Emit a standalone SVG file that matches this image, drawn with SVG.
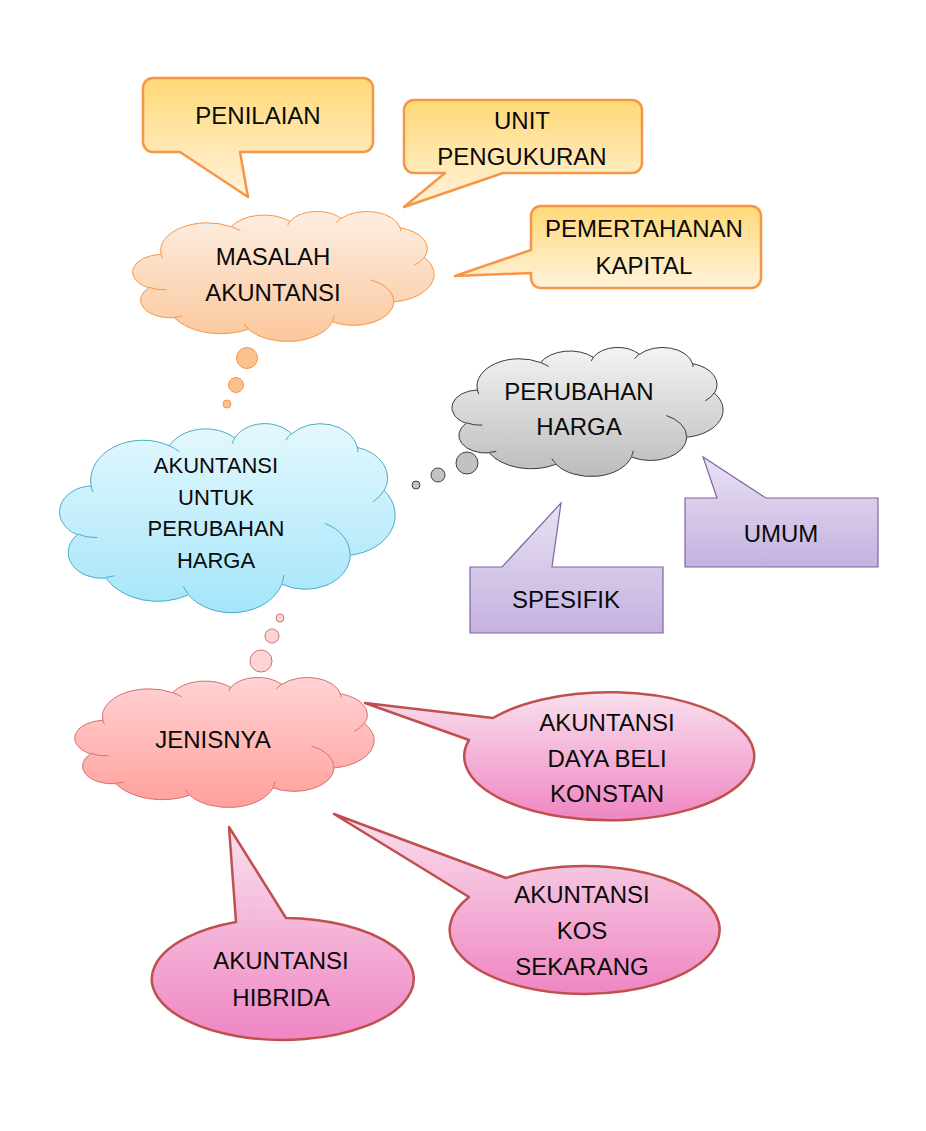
<svg xmlns="http://www.w3.org/2000/svg" xmlns:xlink="http://www.w3.org/1999/xlink" width="926" height="1131" viewBox="0 0 926 1131">
<style>
text{font-family:"Liberation Sans",Arial,sans-serif;font-size:24px;fill:#0a0a0a;text-anchor:middle}
.sm{font-size:22px}
.cl{vector-effect:non-scaling-stroke}
.inner{fill:none}
</style>
<defs>
<linearGradient id="gOr" x1="0" y1="0" x2="0" y2="1"><stop offset="0" stop-color="#FFD978"/><stop offset="1" stop-color="#FFF3DC"/></linearGradient>
<linearGradient id="gOrCloud" x1="0" y1="0" x2="0" y2="1"><stop offset="0" stop-color="#FDEEE2"/><stop offset="1" stop-color="#FBC79C"/></linearGradient>
<linearGradient id="gBlue" x1="0" y1="0" x2="0" y2="1"><stop offset="0" stop-color="#E4F8FD"/><stop offset="1" stop-color="#A4E5FA"/></linearGradient>
<linearGradient id="gGray" x1="0" y1="0" x2="0" y2="1"><stop offset="0" stop-color="#F3F3F3"/><stop offset="1" stop-color="#BCBCBC"/></linearGradient>
<linearGradient id="gPur" x1="0" y1="0" x2="0" y2="1"><stop offset="0" stop-color="#E8E1F3"/><stop offset="1" stop-color="#C5B1E0"/></linearGradient>
<linearGradient id="gRed" x1="0" y1="0" x2="0" y2="1"><stop offset="0" stop-color="#FFD3D3"/><stop offset="1" stop-color="#FFA09C"/></linearGradient>
<linearGradient id="gPink" x1="0" y1="0" x2="0" y2="1"><stop offset="0" stop-color="#F9E0EE"/><stop offset="1" stop-color="#EF86C2"/></linearGradient>
<path id="cloudShape" class="cl" d="M3900 14370 A6753 9190 0 0 1 14005 5202 A5333 7267 0 0 1 22457 3435 A4365 5945 0 0 1 29834 2482 A4857 6595 0 0 1 38317 5581 A5333 7273 0 0 1 41818 15465 A6775 9220 0 0 1 37404 30209 A5785 7867 0 0 1 28555 36818 A6752 9215 0 0 1 16479 39269 A7720 10543 0 0 1 5803 35473 A4360 5918 0 0 1 2113 25550 A4345 5945 0 0 1 3900 14370 Z"/>
<path id="cloudInner" class="cl inner" d="M4693 26177 A4345 5945 0 0 1 2160 25380 M6928 34899 A4360 5918 0 0 1 5820 35280 M16478 39090 A6752 9215 0 0 1 15810 37349 M28827 34751 A6752 9215 0 0 1 28560 36660 M34129 22954 A5785 7867 0 0 1 37380 30090 M41798 15354 A5333 7273 0 0 1 40349 18031 M38324 5426 A4857 6595 0 0 1 38400 6690 M29078 3952 A4857 6595 0 0 1 29822 2337 M22141 4720 A4365 5945 0 0 1 22500 3330 M14000 5192 A6753 9190 0 0 1 15302 6543 M4127 15789 A6753 9190 0 0 1 3900 14370"/>
</defs>

<g id="connectors">
<g fill="#FBC290" stroke="#F79646" stroke-width="1">
<circle cx="247" cy="358" r="10.5"/><circle cx="236" cy="385" r="7.5"/><circle cx="227" cy="404" r="4"/>
</g>
<g fill="#C2C2C2" stroke="#404040" stroke-width="1">
<circle cx="467" cy="463" r="11"/><circle cx="438" cy="475" r="7"/><circle cx="416" cy="485" r="4"/>
</g>
<g fill="#FFD4D4" stroke="#D07272" stroke-width="1">
<circle cx="280" cy="618" r="4"/><circle cx="272" cy="636" r="7"/><circle cx="261" cy="661" r="11"/>
</g>
</g>

<g id="penilaian">
<path d="M153 78 H363 A10 10 0 0 1 373 88 V142 A10 10 0 0 1 363 152 H240 L248 197 L180 152 H153 A10 10 0 0 1 143 142 V88 A10 10 0 0 1 153 78 Z" fill="url(#gOr)" stroke="#F79646" stroke-width="2.5" stroke-linejoin="round"/>
<text x="258" y="124">PENILAIAN</text>
</g>

<g id="unit-pengukuran">
<path d="M414 100 H632 A10 10 0 0 1 642 110 V163 A10 10 0 0 1 632 173 H503 L404 207 L445 173 H414 A10 10 0 0 1 404 163 V110 A10 10 0 0 1 414 100 Z" fill="url(#gOr)" stroke="#F79646" stroke-width="2.5" stroke-linejoin="round"/>
<text x="522" y="129">UNIT</text>
<text x="522" y="165">PENGUKURAN</text>
</g>

<g id="pemertahanan-kapital">
<path d="M541 206 H751 A10 10 0 0 1 761 216 V278 A10 10 0 0 1 751 288 H541 A10 10 0 0 1 531 278 V273 L455 276 L531 250 V216 A10 10 0 0 1 541 206 Z" fill="url(#gOr)" stroke="#F79646" stroke-width="2.5" stroke-linejoin="round"/>
<text x="644" y="237">PEMERTAHANAN</text>
<text x="644" y="274">KAPITAL</text>
</g>

<g id="masalah-akuntansi">
<g transform="translate(134,211) scale(0.0069444,0.0030093)" stroke="#F79646" stroke-width="1">
<use href="#cloudShape" fill="url(#gOrCloud)"/>
<use href="#cloudInner"/>
</g>
<text x="273" y="265">MASALAH</text>
<text x="273" y="301">AKUNTANSI</text>
</g>

<g id="perubahan-harga">
<g transform="translate(453,347) scale(0.00625,0.0029861)" stroke="#3A3A3A" stroke-width="1">
<use href="#cloudShape" fill="url(#gGray)"/>
<use href="#cloudInner"/>
</g>
<text x="579" y="400">PERUBAHAN</text>
<text x="579" y="435">HARGA</text>
</g>

<g id="akuntansi-perubahan-harga">
<g transform="translate(61,423) scale(0.0077315,0.004375)" stroke="#4BACC6" stroke-width="1">
<use href="#cloudShape" fill="url(#gBlue)"/>
<use href="#cloudInner"/>
</g>
<text class="sm" x="216" y="473">AKUNTANSI</text>
<text class="sm" x="216" y="505">UNTUK</text>
<text class="sm" x="216" y="536">PERUBAHAN</text>
<text class="sm" x="216" y="568">HARGA</text>
</g>

<g id="spesifik">
<path d="M470 567 H502 L561 503 L552 567 H663 V633 H470 Z" fill="url(#gPur)" stroke="#8064A2" stroke-width="1.2"/>
<text x="566" y="608">SPESIFIK</text>
</g>

<g id="umum">
<path d="M685 498 H717 L703 457 L766 498 H878 V567 H685 Z" fill="url(#gPur)" stroke="#8064A2" stroke-width="1.2"/>
<text x="781" y="542">UMUM</text>
</g>

<g id="jenisnya">
<g transform="translate(76,677) scale(0.0068981,0.0030093)" stroke="#D86F70" stroke-width="1">
<use href="#cloudShape" fill="url(#gRed)"/>
<use href="#cloudInner"/>
</g>
<text x="213" y="748">JENISNYA</text>
</g>

<g id="daya-beli-konstan">
<path d="M493 718 L365 703 L469 740 A145 64 0 1 0 493 718 Z" fill="url(#gPink)" stroke="#C0504D" stroke-width="2.5" stroke-linejoin="round"/>
<text x="607" y="731">AKUNTANSI</text>
<text x="607" y="767">DAYA BELI</text>
<text x="607" y="802">KONSTAN</text>
</g>

<g id="kos-sekarang">
<path d="M506 878 L334 814 L469 897 A135 64 0 1 0 506 878 Z" fill="url(#gPink)" stroke="#C0504D" stroke-width="2.5" stroke-linejoin="round"/>
<text x="582" y="903">AKUNTANSI</text>
<text x="582" y="939">KOS</text>
<text x="582" y="975">SEKARANG</text>
</g>

<g id="hibrida">
<path d="M236 922 L229 827 L286 918 A131 61 0 1 1 236 922 Z" fill="url(#gPink)" stroke="#C0504D" stroke-width="2.5" stroke-linejoin="round"/>
<text x="281" y="969">AKUNTANSI</text>
<text x="281" y="1006">HIBRIDA</text>
</g>
</svg>
